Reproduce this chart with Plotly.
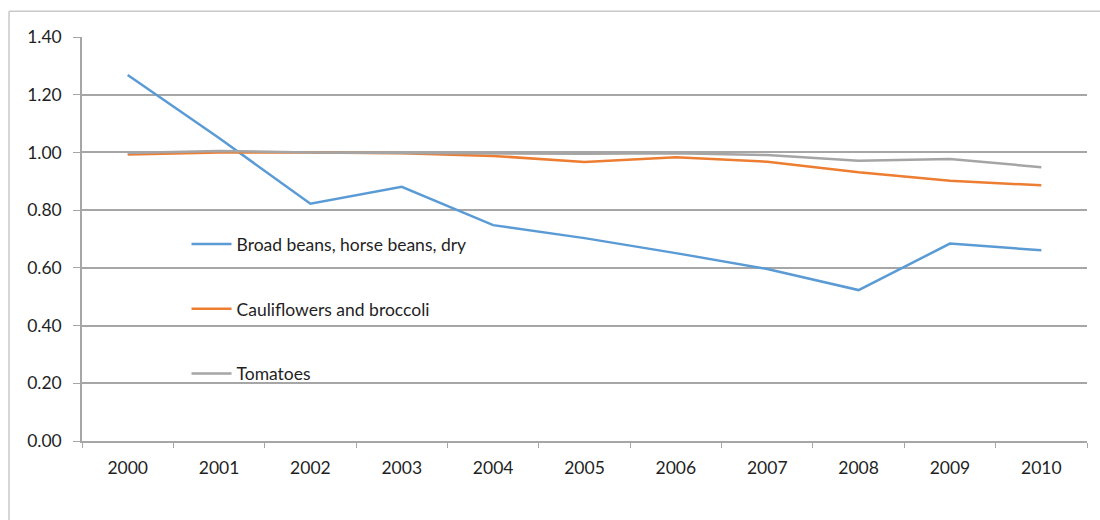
import plotly.graph_objects as go

years = ["2000", "2001", "2002", "2003", "2004", "2005", "2006", "2007", "2008", "2009", "2010"]
broad_beans = [1.268, 1.05, 0.822, 0.881, 0.748, 0.703, 0.651, 0.596, 0.523, 0.684, 0.661]
cauliflowers = [0.993, 1.0, 1.0, 0.997, 0.988, 0.967, 0.983, 0.968, 0.931, 0.902, 0.886]
tomatoes = [0.998, 1.005, 1.0, 0.998, 0.996, 0.995, 0.997, 0.991, 0.971, 0.977, 0.949]
y_ticks = [0.0, 0.2, 0.4, 0.6, 0.8, 1.0, 1.2, 1.4]

series = [
    ("Broad beans, horse beans, dry", broad_beans, "#5B9BD5"),
    ("Cauliflowers and broccoli", cauliflowers, "#ED7D31"),
    ("Tomatoes", tomatoes, "#A5A5A5"),
]

fig = go.Figure()
for i, (name, vals, color) in enumerate(series):
    fig.add_trace(go.Scatter(
        x=years, y=vals, name=name, mode="lines",
        line=dict(color=color, width=2.5),
        legendgroup=f"g{i}",
    ))

fig.update_layout(
    width=1100, height=520,
    margin=dict(l=82, r=13, t=37, b=79),
    paper_bgcolor="white", plot_bgcolor="white",
    font=dict(family="Lato, Calibri, sans-serif", size=17.5, color="#1f1f1f"),
    showlegend=True,
    legend=dict(
        x=0.104, y=0.532, xanchor="left", yanchor="top",
        bgcolor="rgba(0,0,0,0)", tracegroupgap=39, itemwidth=40,
        font=dict(size=17.5, color="#1f1f1f"),
    ),
    xaxis=dict(
        type="category", tickson="boundaries", ticks="outside", ticklen=5,
        tickcolor="#a6a6a6", showline=True, linecolor="#a6a6a6", linewidth=1.5,
        showgrid=False, ticklabelstandoff=10, range=[-0.5, 10.5],
    ),
    yaxis=dict(
        range=[0, 1.4], tickvals=y_ticks, tickformat=".2f",
        ticks="outside", ticklen=7, tickcolor="#a6a6a6",
        showline=True, linecolor="#a6a6a6", linewidth=1.5,
        showgrid=True, gridcolor="#a6a6a6", gridwidth=1.5,
        zeroline=False, ticklabelstandoff=8,
    ),
    shapes=[
        dict(type="line", xref="paper", yref="paper", x0=-0.0726, x1=-0.0726, y0=1.064, y1=-0.3,
             line=dict(color="#c8c8c8", width=1.5)),
        dict(type="line", xref="paper", yref="paper", x0=-0.0726, x1=1.03, y0=1.064, y1=1.064,
             line=dict(color="#c8c8c8", width=1.5)),
    ],
)

fig.write_html(
    "out.html",
    config={"displayModeBar": False},
    post_script="document.body.style.margin='0';document.body.style.overflow='hidden';",
)
